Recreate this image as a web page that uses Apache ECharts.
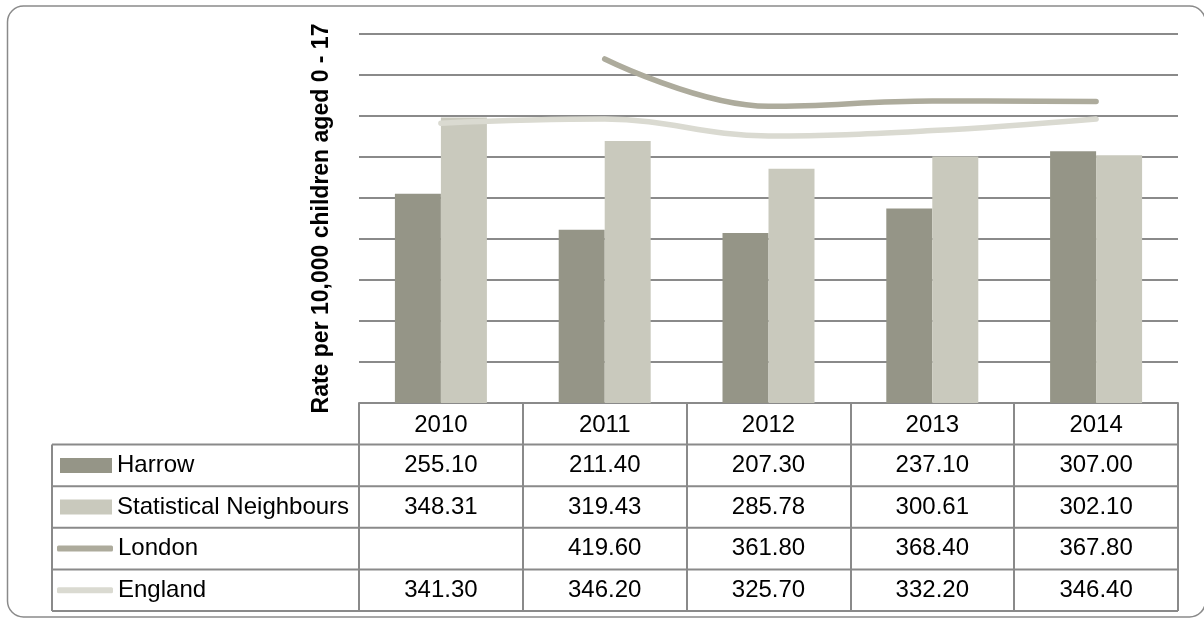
<!DOCTYPE html>
<html>
<head>
<meta charset="utf-8">
<title>Rate per 10,000 children</title>
<script src="https://cdn.jsdelivr.net/npm/echarts@6/dist/echarts.min.js"></script>
<style>
  html, body { margin: 0; padding: 0; background: #fff; }
  #chart { width: 1204px; height: 619px; }
</style>
</head>
<body>
<div id="chart"></div>
<script>
const years = ["2010", "2011", "2012", "2013", "2014"];
const harrow = [255.10, 211.40, 207.30, 237.10, 307.00];
const statNeighbours = [348.31, 319.43, 285.78, 300.61, 302.10];
const london = [null, 419.60, 361.80, 368.40, 367.80];
const england = [341.30, 346.20, 325.70, 332.20, 346.40];
const seriesNames = ["Harrow", "Statistical Neighbours", "London", "England"];

const font = "Liberation Sans";
const gridCol = "#8a8a8a";
const colHarrow = "#959587";
const colSN = "#c9c9bd";
const colLondon = "#adab9c";
const colEngland = "#dadad1";

// table layout (rows under the plot)
const gridLeft = 359, gridRight = 1178, gridBottom = 403;
const tableLeft = 52;
const rowLines = [444.6, 486.2, 527.8, 569.4, 611];

const chart = echarts.init(document.getElementById("chart"));

function legendFor(name, icon, w, h, left, rowIdx) {
  const center = (rowLines[rowIdx] + rowLines[rowIdx + 1]) / 2;
  return {
    data: [{ name: name, icon: icon }],
    left: left,
    top: center - 12,
    padding: 0,
    itemWidth: w,
    itemHeight: h,
    selectedMode: false,
    textStyle: { fontFamily: font, fontSize: 24, lineHeight: 24, color: "#000" }
  };
}

const option = {
  animation: false,
  backgroundColor: "#fff",
  textStyle: { fontFamily: font },
  grid: { left: gridLeft, right: 1204 - gridRight, top: 34, bottom: 619 - gridBottom },
  legend: [
    legendFor("Harrow", "rect", 52, 15, 60, 0),
    legendFor("Statistical Neighbours", "rect", 52, 15, 60, 1),
    legendFor("London", "roundRect", 56, 6, 57, 2),
    legendFor("England", "roundRect", 56, 6, 57, 3)
  ],
  xAxis: {
    type: "category",
    data: years,
    boundaryGap: true,
    axisLine: { lineStyle: { color: gridCol, width: 2 } },
    axisTick: { show: true, length: 611 - gridBottom, lineStyle: { color: gridCol, width: 2 } },
    axisLabel: { fontFamily: font, fontSize: 24, color: "#000", margin: 10 }
  },
  yAxis: {
    type: "value",
    min: 0,
    max: 450,
    interval: 50,
    name: "Rate per 10,000 children aged 0 - 17",
    nameLocation: "middle",
    nameRotate: 90,
    nameGap: 26,
    nameTextStyle: { fontFamily: font, fontSize: 23, fontWeight: "bold", color: "#000" },
    axisLine: { show: false },
    axisTick: { show: false },
    axisLabel: { show: false },
    splitLine: { lineStyle: { color: gridCol, width: 2 } }
  },
  series: [
    {
      name: seriesNames[0], type: "bar", data: harrow,
      barWidth: 46, barGap: "0%",
      itemStyle: { color: colHarrow }
    },
    {
      name: seriesNames[1], type: "bar", data: statNeighbours,
      barWidth: 46, barGap: "0%",
      itemStyle: { color: colSN }
    },
    {
      name: seriesNames[2], type: "line", data: london,
      smooth: 0.4, symbol: "none",
      lineStyle: { color: colLondon, width: 5.5, cap: "round" },
      itemStyle: { color: colLondon }
    },
    {
      name: seriesNames[3], type: "line", data: england,
      smooth: 0.4, symbol: "none",
      lineStyle: { color: colEngland, width: 5.5, cap: "round" },
      itemStyle: { color: colEngland }
    }
  ]
};

chart.setOption(option);

// data table: grid lines + values, columns positioned from the x axis scale
const rows = [harrow, statNeighbours, london, england];
const graphics = [];

// outer rounded border
graphics.push({
  type: "rect", silent: true, z: -1,
  shape: { x: 7.5, y: 6, width: 1198, height: 611, r: 16 },
  style: { fill: null, stroke: "#8a8a8a", lineWidth: 1.5 }
});

rowLines.forEach(function (y) {
  graphics.push({
    type: "line", silent: true,
    shape: { x1: tableLeft, y1: y, x2: gridRight, y2: y },
    style: { stroke: gridCol, lineWidth: 2 }
  });
});
graphics.push({
  type: "line", silent: true,
  shape: { x1: tableLeft, y1: rowLines[0], x2: tableLeft, y2: rowLines[rowLines.length - 1] },
  style: { stroke: gridCol, lineWidth: 2 }
});

rows.forEach(function (vals, r) {
  const cy = (rowLines[r] + rowLines[r + 1]) / 2;
  vals.forEach(function (v, i) {
    if (v == null) return;
    const cx = chart.convertToPixel({ xAxisIndex: 0 }, years[i]);
    graphics.push({
      type: "text", silent: true,
      x: cx, y: cy,
      style: {
        text: v.toFixed(2), fontFamily: font, fontSize: 24, fill: "#000",
        align: "center", verticalAlign: "middle"
      }
    });
  });
});

chart.setOption({ graphic: graphics });
</script>
</body>
</html>
